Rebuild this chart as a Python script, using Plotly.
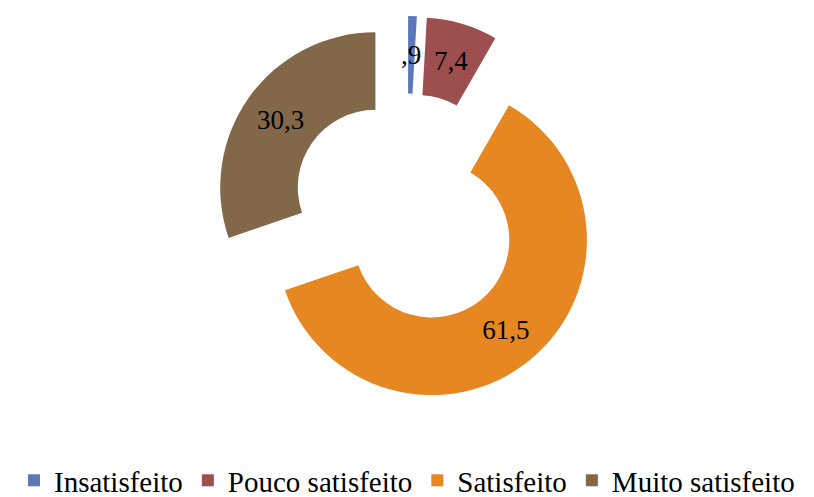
import math
import plotly.graph_objects as go

categories = ["Insatisfeito", "Pouco satisfeito", "Satisfeito", "Muito satisfeito"]
values = [0.9, 7.4, 61.5, 30.3]
colors = ["#5B78BB", "#9D4F50", "#E68722", "#836749"]

def fmt(v):
    s = f"{v:.1f}".replace(".", ",")
    return s[1:] if s.startswith("0") else s

text_labels = [fmt(v) for v in values]

# figure geometry
W, H = 814, 497
M_T, M_B = 16, 93
HOLE = 0.5
PULL = 0.25
SMALL = 10.0  # slices too thin for plotly's inside text: labelled with annotations
LABEL_FONT = dict(family="Liberation Serif", size=27, color="#000000")

pie_text = [t if v >= SMALL else "" for t, v in zip(text_labels, values)]

fig = go.Figure(go.Pie(
    labels=categories,
    values=values,
    text=pie_text,
    textinfo="text",
    textposition="inside",
    insidetextorientation="horizontal",
    textfont=LABEL_FONT,
    marker=dict(colors=colors, line=dict(width=0)),
    hole=HOLE,
    pull=[PULL] * len(values),
    sort=False,
    direction="clockwise",
    rotation=0,
    hoverinfo="label+value",
))

# annotations for thin slices, placed at the slice's mid-ring point (computed from values)
plot_h = H - M_T - M_B
R = min(W, plot_h) / 2 / (1 + PULL)
total = sum(values)
cum = 0.0
annotations = []
for v, t in zip(values, text_labels):
    mid = (cum + v / 2) / total * 2 * math.pi
    cum += v
    if v >= SMALL:
        continue
    dist = R * PULL + R * (1 + HOLE) / 2
    dx = dist * math.sin(mid)
    dy = dist * math.cos(mid)
    annotations.append(dict(
        x=0.5 + dx / W, y=0.5 + dy / plot_h, xref="paper", yref="paper",
        text=t, showarrow=False, font=LABEL_FONT,
        xanchor="center", yanchor="middle",
    ))

fig.update_layout(
    width=W, height=H,
    margin=dict(l=0, r=0, t=M_T, b=M_B, autoexpand=False),
    paper_bgcolor="white",
    plot_bgcolor="white",
    uniformtext=dict(minsize=27, mode="show"),
    annotations=annotations,
    showlegend=True,
    legend=dict(
        orientation="h",
        x=0.5, xanchor="center",
        y=-0.197, yanchor="middle",
        font=dict(family="Liberation Serif", size=29, color="#000000"),
        itemwidth=30,
        tracegroupgap=0,
    ),
)

fig.write_html("out.html")
